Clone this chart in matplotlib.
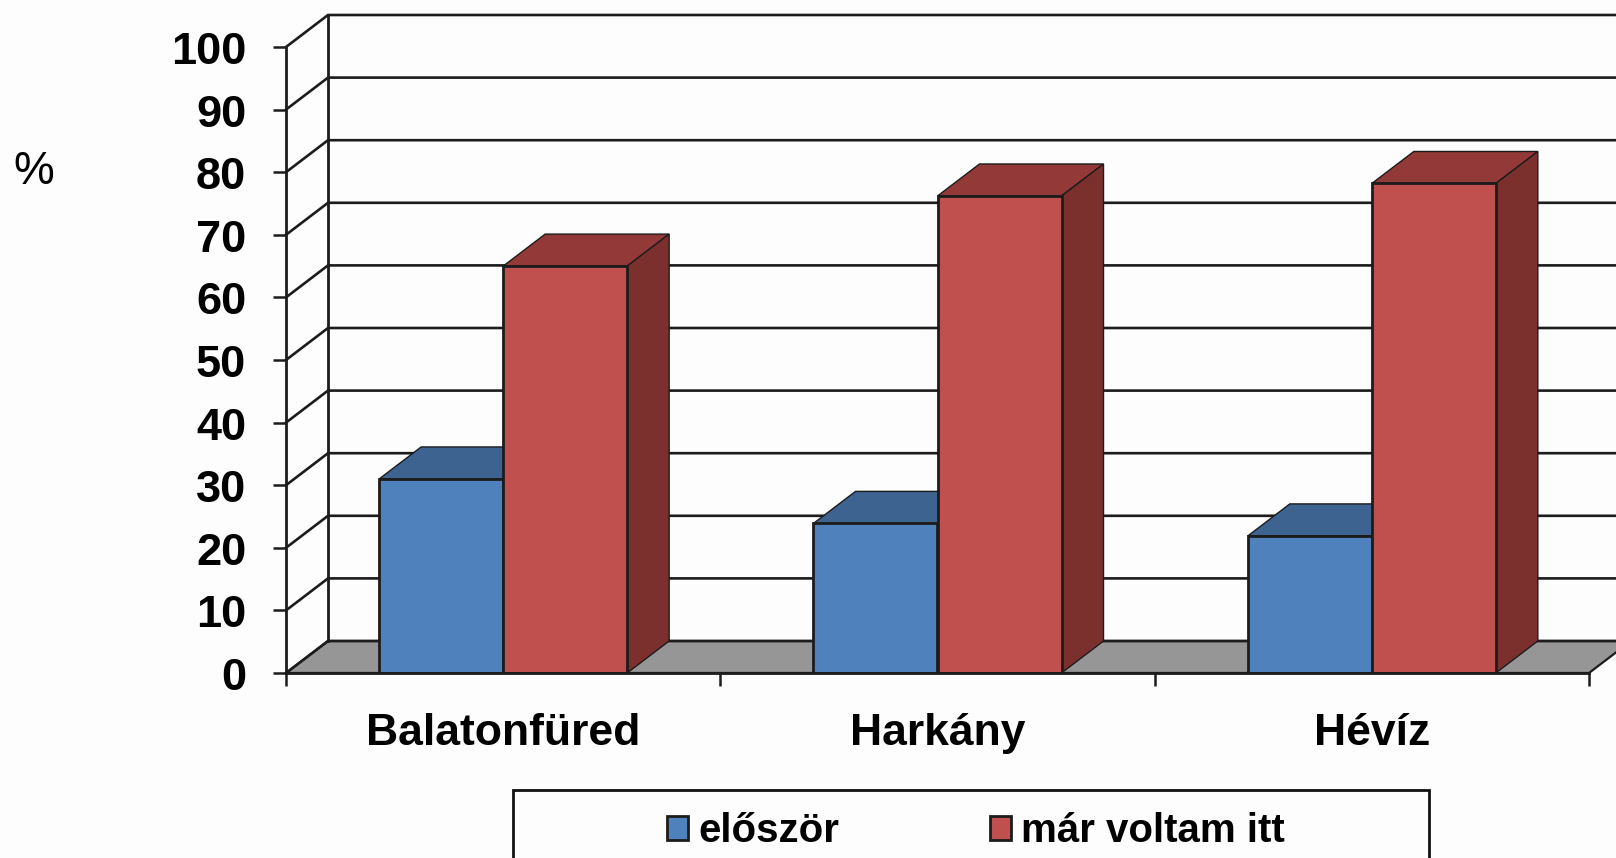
import numpy as np
import matplotlib
matplotlib.use('Agg')
import matplotlib.pyplot as plt
from matplotlib.patches import Polygon, Rectangle
from matplotlib.transforms import ScaledTranslation

plt.rcParams['font.family'] = ['Liberation Sans', 'DejaVu Sans']

# values
towns = ['Balatonfüred', 'Harkány', 'Hévíz']
elso = [31.0, 23.9, 21.9]
mar = [65.0, 76.2, 78.2]
series_names = ['először', 'már voltam itt']
y_ticks = list(range(0, 101, 10))

W, H = 1616, 858
fig = plt.figure(figsize=(W / 100, H / 100), dpi=100, facecolor='#fdfdfd')

# the plot box is the front plane of the 3d chart
left, right, bottom, top = 286, 1589, 673, 47
ax = fig.add_axes([left / W, 1 - bottom / H, (right - left) / W, (bottom - top) / H])
ax.set_xlim(-0.5, 2.5)
ax.set_ylim(0, 100)
ax.patch.set_alpha(0)

# depth of the fake 3d, in data units
dx = 42 / ((right - left) / 3)
dy = 32 / ((bottom - top) / 100)
x0, x1 = -0.5, 2.5
dark = '#1c1c1c'

# floor
ax.add_patch(Polygon([(x0, 0), (x0 + dx, dy), (x1 + dx, dy), (x1, 0)], closed=True, fc='#969696',
                     ec=dark, lw=1.6, clip_on=False, zorder=1))

# back wall grid and side wall
for v in y_ticks:
    ax.plot([x0, x0 + dx, x1 + dx], [v, v + dy, v + dy], color=dark, lw=1.9, clip_on=False, zorder=1.5,
            solid_joinstyle='miter')
ax.plot([x0 + dx, x0 + dx], [dy, 100 + dy], color=dark, lw=2.0, clip_on=False, zorder=1.5)

# bars
bw = 124 / ((right - left) / 3)
xs = np.arange(len(towns))
series = [
    (elso, xs - bw / 2, '#4f81bd', '#3d6390', '#2f4d70'),
    (mar, xs + bw / 2, '#c0504d', '#933937', '#7c302e'),
]
handles = []
for vals, pos, front, tp, side in series:
    bars = ax.bar(pos, vals, bw, color=front, edgecolor=dark, linewidth=2.0, zorder=3)
    handles.append(bars)
    for p, v in zip(pos, vals):
        a, b = p - bw / 2, p + bw / 2
        ax.add_patch(Polygon([(a, v), (a + dx, v + dy), (b + dx, v + dy), (b, v)], closed=True,
                             fc=tp, ec=dark, lw=1.0, clip_on=False, zorder=2.5))
        ax.add_patch(Polygon([(b, 0), (b + dx, dy), (b + dx, v + dy), (b, v)], closed=True,
                             fc=side, ec=dark, lw=1.0, clip_on=False, zorder=2.5))

# axes
for s in ['top', 'right']:
    ax.spines[s].set_visible(False)
for s in ['left', 'bottom']:
    ax.spines[s].set_linewidth(2.0)
    ax.spines[s].set_color(dark)
    ax.spines[s].set_zorder(4)
ax.set_yticks(y_ticks)
ax.tick_params(axis='y', length=9.5, width=1.8, color=dark, pad=19.2, labelsize=32.5)
for t in ax.get_yticklabels():
    t.set_fontweight('bold')
    t.set_transform(t.get_transform() + ScaledTranslation(0, -1 / 100, fig.dpi_scale_trans))
ax.set_xticks(xs)
ax.set_xticklabels(towns, fontsize=32, fontweight='bold')
ax.set_xticks([-0.5, 0.5, 1.5, 2.5], minor=True)
ax.tick_params(axis='x', which='major', length=0, pad=29)
ax.tick_params(axis='x', which='minor', length=9, width=1.8, color=dark)

fig.text(34 / W, 1 - 172 / H, '%', fontsize=33, ha='center', va='center')

# legend box runs off the bottom of the slide
fig.add_artist(Rectangle((513 / W, -0.02), (1429 - 513) / W, 1 - 790 / H + 0.02, transform=fig.transFigure,
                         fc='none', ec='#111111', lw=2.0))
fig.legend([h[0] for h in handles], series_names, loc='center left', bbox_to_anchor=(667 / W, 1 - 831 / H),
           ncol=2, frameon=False, prop={'weight': 'bold', 'size': 29}, borderpad=0, borderaxespad=0,
           handlelength=0.52, handleheight=0.55, handletextpad=0.25, columnspacing=3.75)

fig.savefig('out.png', dpi=100, facecolor=fig.get_facecolor())
